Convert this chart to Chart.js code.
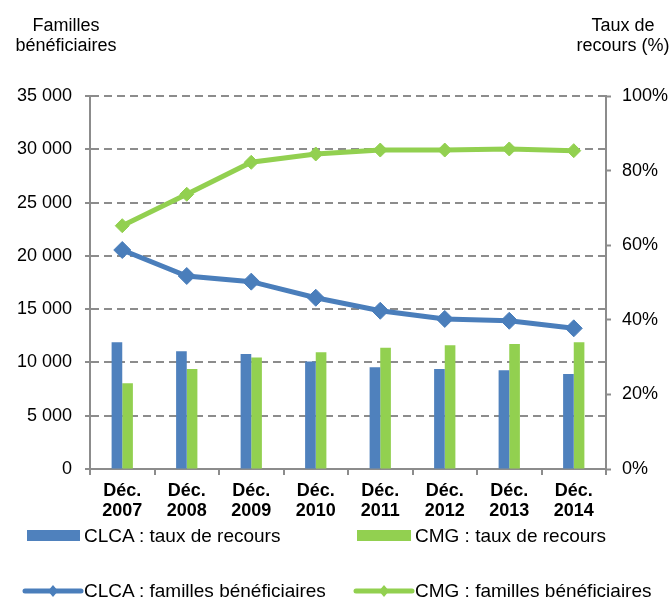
<!DOCTYPE html>
<html>
<head>
<meta charset="utf-8">
<script src="https://cdn.jsdelivr.net/npm/chart.js@4/dist/chart.umd.min.js"></script>
<style>
  html, body { margin: 0; padding: 0; background: #fff; overflow: hidden; }
  body { width: 672px; height: 599px; position: relative; font-family: "Liberation Sans", Arial, sans-serif; color: #000; }
  #c { position: absolute; left: 0; top: 0; }
  .t { position: absolute; font-size: 18px; line-height: 20px; white-space: nowrap; }
  .lg { font-size: 19px; }
  .ctr { text-align: center; }
  .sw { position: absolute; }
</style>
</head>
<body>
<canvas id="c" width="672" height="599"></canvas>
<div class="t ctr" style="left:-4px; top:15px; width:140px;">Familles<br>bénéficiaires</div>
<div class="t ctr" style="left:563px; top:15px; width:120px;">Taux de<br>recours (%)</div>

<div class="sw" style="left:27px; top:530px; width:53px; height:11px; background:#4F81BD;"></div>
<div class="t lg" style="left:84px; top:526px;">CLCA : taux de recours</div>
<div class="sw" style="left:357px; top:530px; width:54px; height:11px; background:#92D050;"></div>
<div class="t lg" style="left:415px; top:526px;">CMG : taux de recours</div>

<svg class="sw" style="left:0; top:580px;" width="672" height="22">
  <line x1="25" y1="11" x2="81" y2="11" stroke="#4A7EBB" stroke-width="5" stroke-linecap="round"/>
  <polygon points="53,5 58,11 53,17 48,11" fill="#4A7EBB"/>
  <line x1="356" y1="11" x2="412" y2="11" stroke="#92D050" stroke-width="5" stroke-linecap="round"/>
  <polygon points="384,5 389,11 384,17 379,11" fill="#92D050"/>
</svg>
<div class="t lg" style="left:84px; top:581px;">CLCA : familles bénéficiaires</div>
<div class="t lg" style="left:415px; top:581px;">CMG : familles bénéficiaires</div>

<script>
const categories = [['Déc.','2007'],['Déc.','2008'],['Déc.','2009'],['Déc.','2010'],['Déc.','2011'],['Déc.','2012'],['Déc.','2013'],['Déc.','2014']];
const clcaTaux = [34.0, 31.6, 30.8, 28.8, 27.3, 26.8, 26.5, 25.5];
const cmgTaux = [23.0, 26.8, 29.9, 31.3, 32.5, 33.2, 33.5, 34.0];
const clcaFamilles = [20550, 18110, 17580, 16070, 14850, 14080, 13910, 13200];
const cmgFamilles = [22830, 25780, 28780, 29560, 29930, 29930, 30030, 29870];
const leftTicks = [0, 5000, 10000, 15000, 20000, 25000, 30000, 35000];
const rightTicks = [0, 20, 40, 60, 80, 100];

const BLUE = '#4F81BD', BLUE_LINE = '#4A7EBB', GREEN = '#92D050', GRID = '#8C8C8C', AXIS = '#8C8C8C';
const fmt = v => String(v).replace(/\B(?=(\d{3})+(?!\d))/g, ' ');

new Chart(document.getElementById('c'), {
  type: 'bar',
  data: {
    labels: categories,
    datasets: [
      { type: 'line', label: 'CLCA : familles bénéficiaires', data: clcaFamilles, yAxisID: 'yL',
        borderColor: BLUE_LINE, backgroundColor: BLUE_LINE, borderWidth: 5, pointStyle: 'rectRot',
        pointRadius: 8.5, pointBorderWidth: 1, pointBackgroundColor: BLUE_LINE, pointBorderColor: BLUE_LINE, tension: 0 },
      { type: 'line', label: 'CMG : familles bénéficiaires', data: cmgFamilles, yAxisID: 'yL',
        borderColor: GREEN, backgroundColor: GREEN, borderWidth: 5, pointStyle: 'rectRot',
        pointRadius: 7, pointBorderWidth: 1, pointBackgroundColor: GREEN, pointBorderColor: GREEN, tension: 0 },
      { label: 'CLCA : taux de recours', data: clcaTaux, yAxisID: 'yR', backgroundColor: BLUE,
        categoryPercentage: 0.33, barPercentage: 1.0 },
      { label: 'CMG : taux de recours', data: cmgTaux, yAxisID: 'yR', backgroundColor: GREEN,
        categoryPercentage: 0.33, barPercentage: 1.0 }
    ]
  },
  options: {
    responsive: false,
    animation: false,
    layout: { padding: { top: 96, left: 0, right: 0, bottom: 0 } },
    plugins: { legend: { display: false }, tooltip: { enabled: false } },
    scales: {
      x: {
        offset: true,
        grid: { display: true, drawOnChartArea: false, drawTicks: true, tickLength: 6, color: AXIS, lineWidth: 2, offset: true },
        border: { display: true, color: AXIS, width: 2 },
        ticks: { color: '#000', font: { family: '"Liberation Sans", Arial, sans-serif', size: 18, weight: 'bold', lineHeight: 1.12 }, padding: 6, maxRotation: 0, autoSkip: false },
        afterFit: s => { s.height = 130; }
      },
      yL: {
        position: 'left', min: 0, max: 35000,
        afterBuildTicks: s => { s.ticks = leftTicks.map(v => ({ value: v })); },
        grid: { color: GRID, lineWidth: 2, tickLength: 5, tickColor: GRID, tickWidth: 2 },
        border: { display: true, color: AXIS, width: 2, dash: [8, 5] },
        ticks: { color: '#000', font: { family: '"Liberation Sans", Arial, sans-serif', size: 18 }, padding: 13, callback: v => fmt(v) },
        afterFit: s => { s.width = 90; }
      },
      yR: {
        position: 'right', min: 0, max: 100,
        afterBuildTicks: s => { s.ticks = rightTicks.map(v => ({ value: v })); },
        grid: { drawOnChartArea: false, tickLength: 5, color: GRID, tickColor: GRID, tickWidth: 2 },
        border: { display: true, color: AXIS, width: 2 },
        ticks: { color: '#000', font: { family: '"Liberation Sans", Arial, sans-serif', size: 18 }, padding: 11, callback: v => v + '%' },
        afterFit: s => { s.width = 66; }
      }
    }
  }
});
</script>
</body>
</html>
